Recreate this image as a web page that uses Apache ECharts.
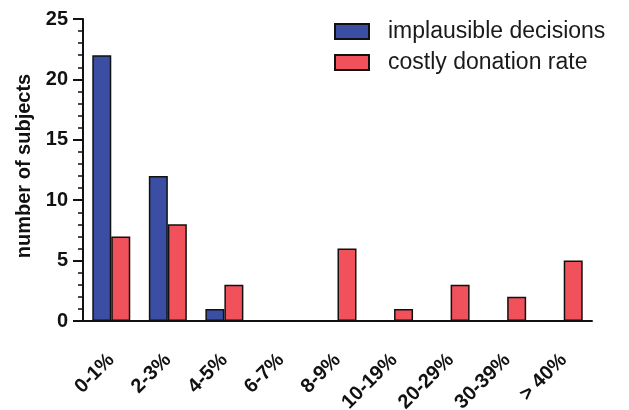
<!DOCTYPE html>
<html><head><meta charset="utf-8">
<script src="https://cdn.jsdelivr.net/npm/echarts@6/dist/echarts.min.js"></script>
<style>html,body{margin:0;padding:0;background:#fff}#c{width:629px;height:410px}</style>
</head><body><div id="c"></div>
<script>
const categories = ['0-1%','2-3%','4-5%','6-7%','8-9%','10-19%','20-29%','30-39%','> 40%'];
const implausible = [22, 12, 1, 0, 0, 0, 0, 0, 0];
const costly = [7, 8, 3, 0, 6, 1, 3, 2, 5];
const yTicks = [0, 5, 10, 15, 20, 25];

const chart = echarts.init(document.getElementById('c'));
const font = 'Liberation Sans, Arial, Helvetica, sans-serif';
chart.setOption({
  animation: false,
  textStyle: {fontFamily: font},
  grid: {left: 83, right: 37, top: 19, bottom: 89, containLabel: false, outerBoundsMode: 'none'},
  legend: {
    orient: 'vertical', left: 329, top: 14, itemWidth: 34, itemHeight: 15, itemGap: 6,
    icon: 'rect',
    textStyle: {fontSize: 23, lineHeight: 25, color: '#1a1a1a', fontFamily: font, padding: [0, 0, 0, 14]},
    data: ['implausible decisions', 'costly donation rate']
  },
  xAxis: {
    type: 'category', data: categories,
    axisLine: {lineStyle: {color: '#111', width: 2}},
    axisTick: {alignWithLabel: true, length: 9, lineStyle: {color: '#111', width: 2}},
    axisLabel: {rotate: 45, fontSize: 20, fontWeight: 'bold', color: '#111', margin: 36, interval: 0}
  },
  yAxis: {
    type: 'value', min: yTicks[0], max: yTicks[yTicks.length - 1], interval: 5,
    name: 'number of subjects', nameLocation: 'middle', nameGap: 46,
    nameTextStyle: {fontSize: 20, fontWeight: 'bold', color: '#111', padding: [0, 0, 0, 8]},
    axisLine: {show: true, lineStyle: {color: '#111', width: 2}},
    axisTick: {show: true, length: 10, lineStyle: {color: '#111', width: 2}},
    minorTick: {show: true, splitNumber: 5, length: 5, lineStyle: {color: '#111', width: 1.5}},
    splitLine: {show: false},
    axisLabel: {fontSize: 20, fontWeight: 'bold', color: '#111', margin: 15}
  },
  series: [
    {name: 'implausible decisions', type: 'bar', data: implausible, barWidth: 19, barGap: '0%',
     itemStyle: {color: '#3a4fa3', borderColor: '#111', borderWidth: 1.5}},
    {name: 'costly donation rate', type: 'bar', data: costly, barWidth: 19,
     itemStyle: {color: '#f0515b', borderColor: '#111', borderWidth: 1.5}}
  ]
});
</script></body></html>
